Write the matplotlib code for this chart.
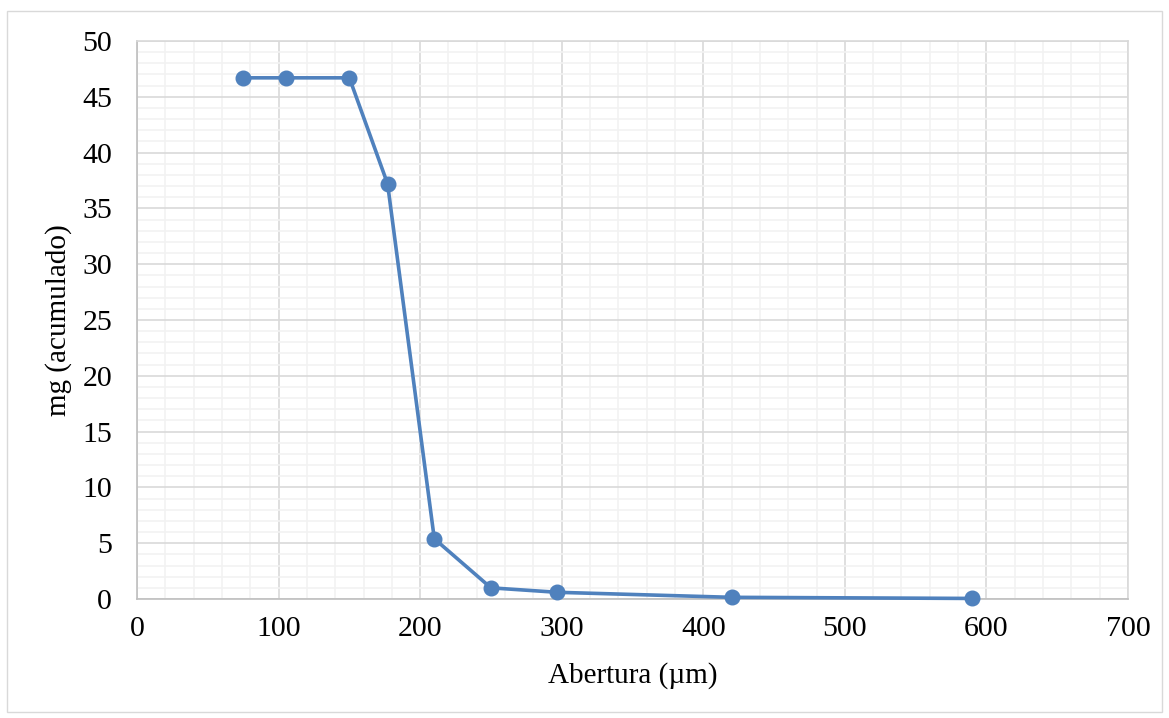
import matplotlib
matplotlib.use("Agg")
import matplotlib.pyplot as plt
from matplotlib.patches import Rectangle
from matplotlib.ticker import MultipleLocator

abertura = [75, 105, 150, 177, 210, 250, 297, 420, 590]
mg_acumulado = [46.7, 46.7, 46.7, 37.2, 5.4, 1.0, 0.6, 0.15, 0.05]

plt.rcParams['font.family'] = ['Liberation Serif', 'DejaVu Serif']

fig = plt.figure(figsize=(11.69, 7.18), dpi=100)
fig.patches.append(Rectangle((7/1169, 1-712/718), 1155/1169, 701/718,
                             transform=fig.transFigure, fill=False,
                             edgecolor='#D9D9D9', linewidth=1))
ax = fig.add_axes([137/1169, 1-599/718, (1128-137)/1169, (599-41)/718])

ax.plot(abertura, mg_acumulado, color='#4F81BD', linewidth=2.6,
        marker='o', markersize=10.5, zorder=5, clip_on=False)

ax.set_xlim(0, 700)
ax.set_ylim(0, 50)
ax.xaxis.set_major_locator(MultipleLocator(100))
ax.xaxis.set_minor_locator(MultipleLocator(20))
ax.yaxis.set_major_locator(MultipleLocator(5))
ax.yaxis.set_minor_locator(MultipleLocator(1))
ax.grid(which='minor', color='#F2F2F2', linewidth=1.2)
ax.grid(which='major', color='#D9D9D9', linewidth=1.2)
ax.set_axisbelow(True)
for s in ax.spines.values():
    s.set_color('#D9D9D9')
    s.set_linewidth(1.2)
ax.spines['left'].set_color('#BFBFBF')
ax.spines['bottom'].set_color('#BFBFBF')
ax.tick_params(which='both', length=0)
ax.tick_params(axis='y', pad=18, labelsize=21.5)
ax.tick_params(axis='x', pad=12, labelsize=21.5)

ax.set_xlabel('Abertura (µm)', fontsize=21, labelpad=15)
ax.set_ylabel('mg (acumulado)', fontsize=21, labelpad=7)

fig.savefig('out.png', dpi=100)
